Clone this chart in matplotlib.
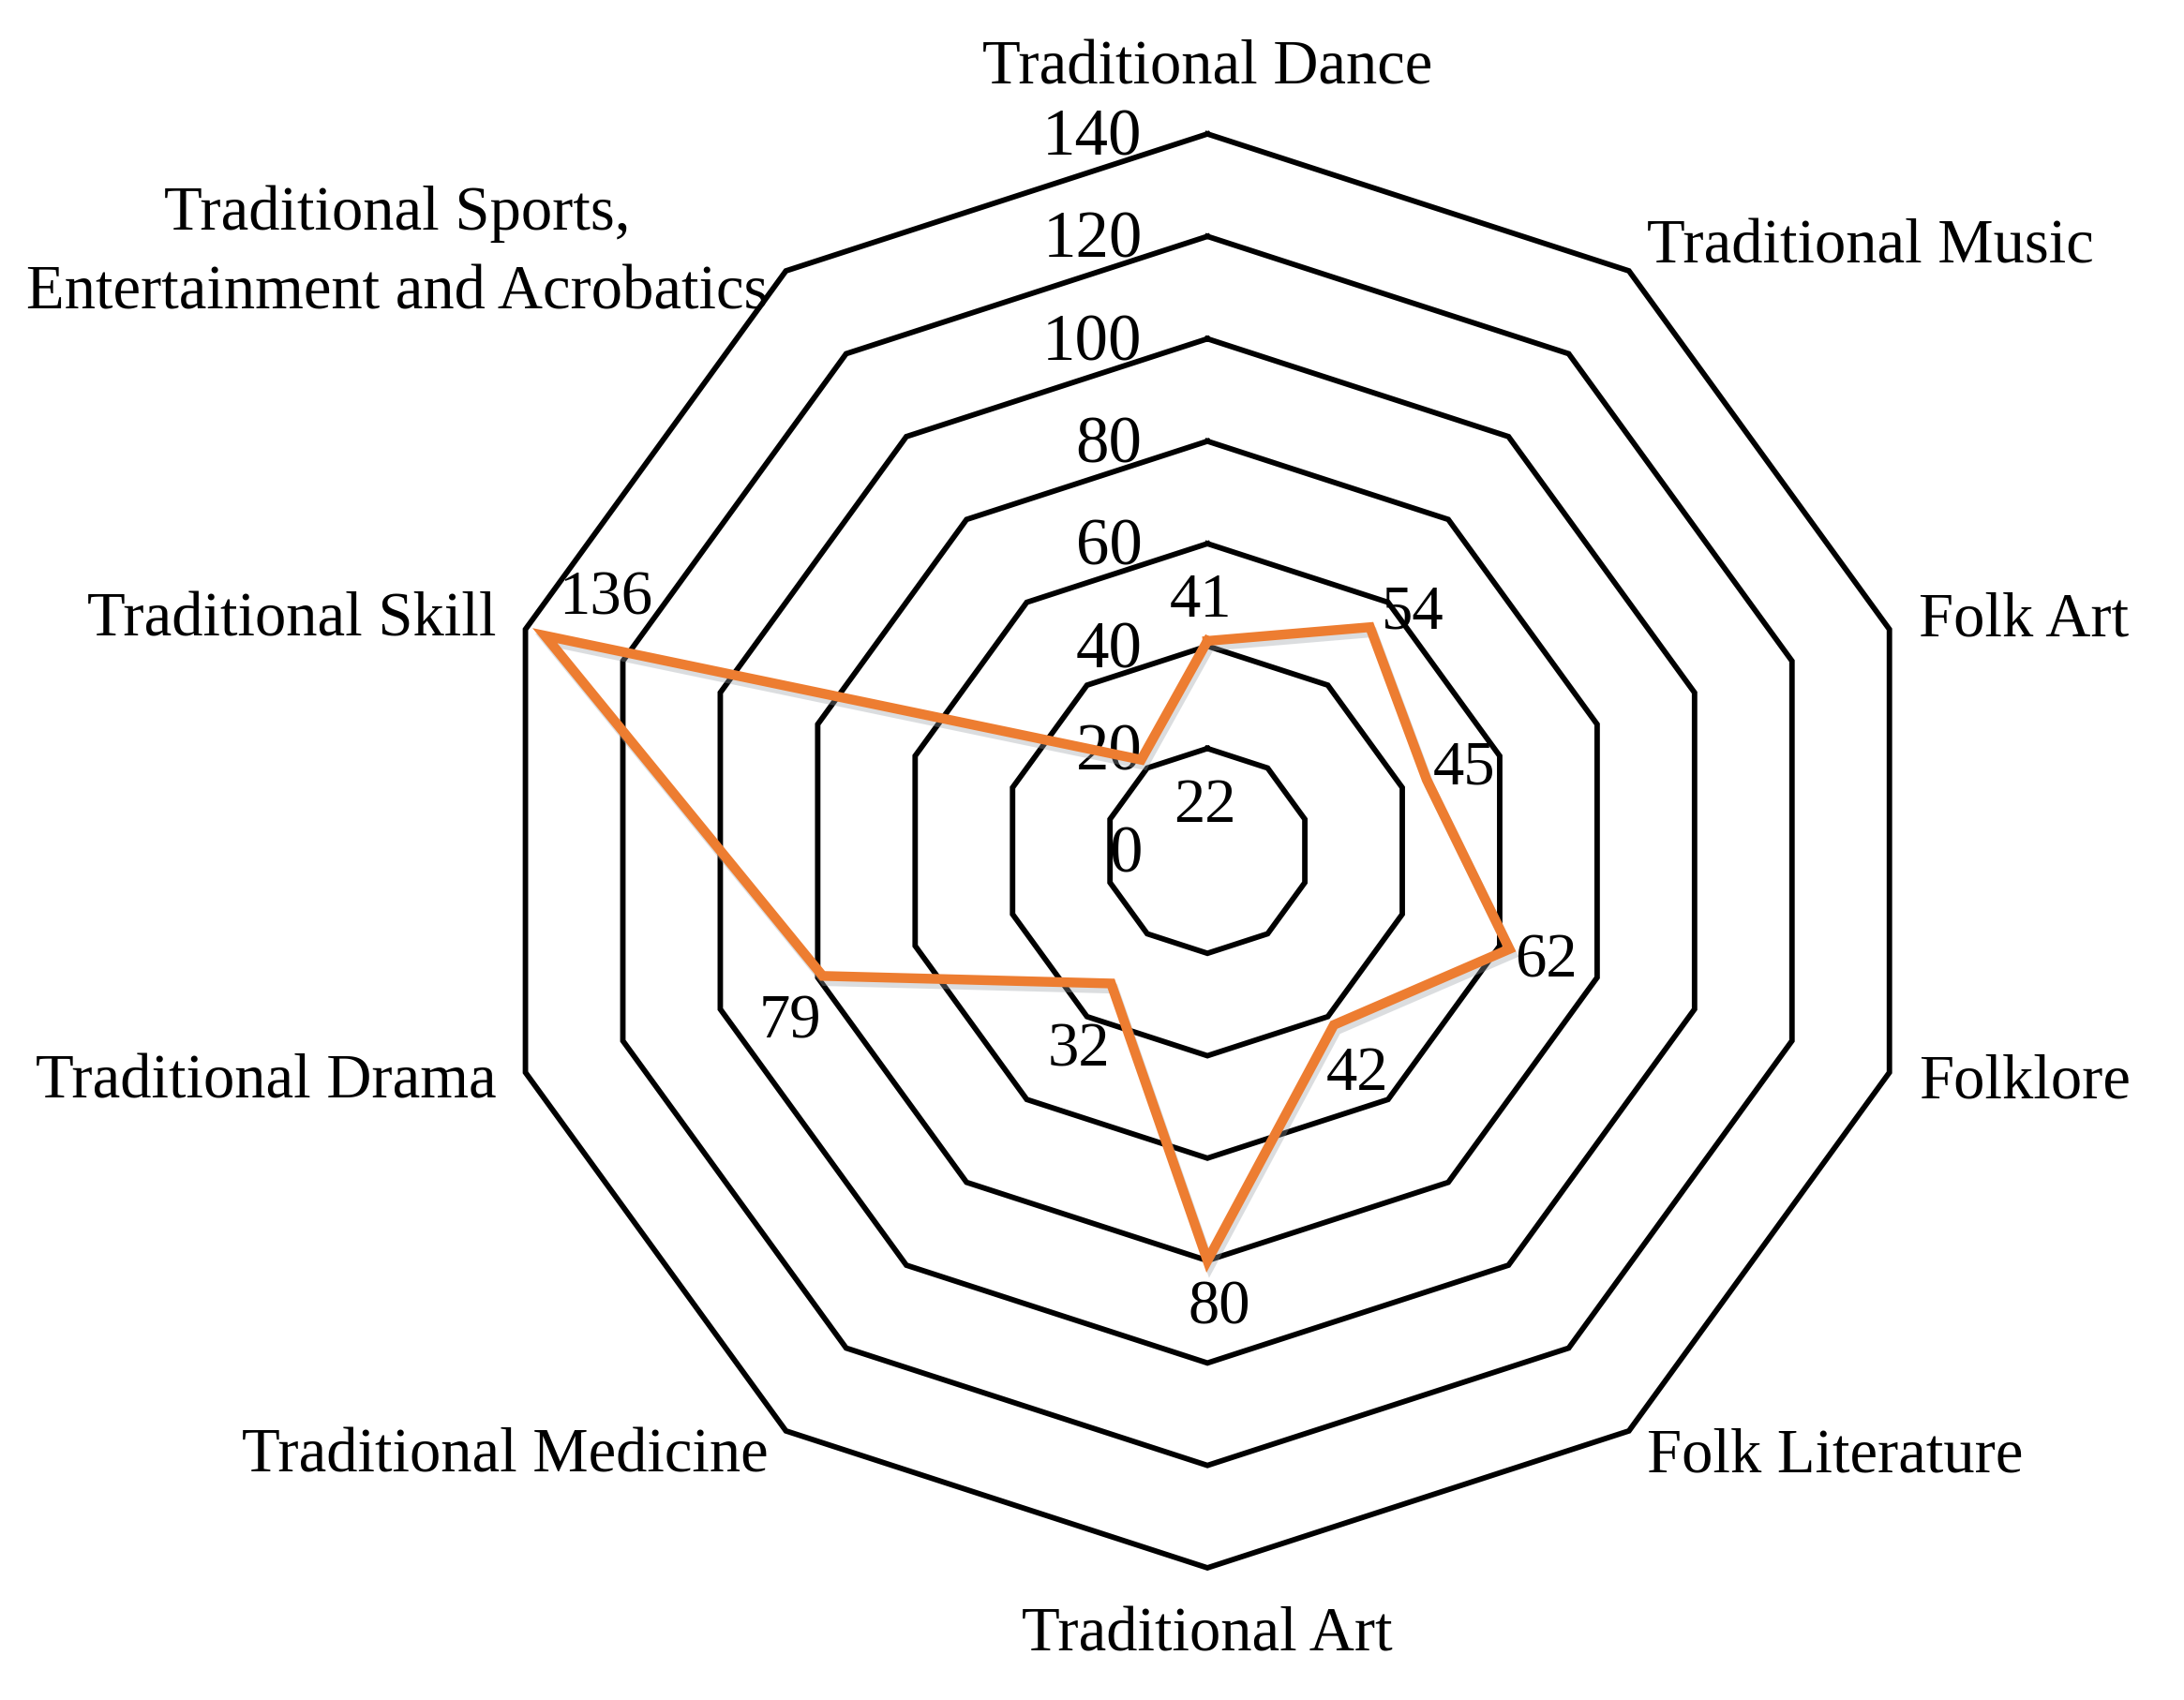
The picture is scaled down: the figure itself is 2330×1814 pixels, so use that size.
"""Radar chart of intangible cultural heritage counts by category."""

import matplotlib.pyplot as plt
import matplotlib.patheffects as pe
import numpy as np

categories = [
    "Traditional Dance",
    "Traditional Music",
    "Folk Art",
    "Folklore",
    "Folk Literature",
    "Traditional Art",
    "Traditional Medicine",
    "Traditional Drama",
    "Traditional Skill",
    "Traditional Sports,\nEntertainment and Acrobatics",
]
values = [41, 54, 45, 62, 42, 80, 32, 79, 136, 22]
ticks = [0, 20, 40, 60, 80, 100, 120, 140]

# label offsets (points) for the value labels, as placed in the original
label_offsets = [(-5, 31), (33, 12), (29, 9), (28, -9), (18, -37),
                 (9, -36), (-25, -51), (-25, -35), (47, 29), (49, -35)]

plt.rcParams["font.family"] = ["Liberation Serif", "DejaVu Serif"]
FS = 48
TICK_FS = 51

n = len(categories)
theta = np.arange(n) * 2 * np.pi / n
theta_closed = np.append(theta, theta[0])

fig = plt.figure(figsize=(23.3, 18.15), dpi=100)
ax = fig.add_axes([0.2245, 0.0777, 0.6567, 0.843], projection="polar")
ax.set_theta_offset(np.pi / 2)
ax.set_theta_direction(-1)
ax.set_ylim(0, 140)
ax.grid(False)
ax.spines["polar"].set_visible(False)
ax.set_xticks([])
ax.set_yticks([])
ax.patch.set_alpha(0)

# decagon grid rings
for t in ticks[1:]:
    ax.plot(theta_closed, [t] * (n + 1), color="black", lw=4.2, zorder=1,
            solid_joinstyle="miter", clip_on=False)

# tick labels along the vertical axis
for t in ticks:
    ax.annotate(str(t), xy=(0, t), xytext=(-50, -3), textcoords="offset points",
                ha="right", va="center", fontsize=TICK_FS, zorder=3,
                annotation_clip=False)

# data line
vals_closed = values + values[:1]
ax.plot(theta_closed, vals_closed, color="#ED7D31", lw=7.5, zorder=4,
        solid_joinstyle="miter", clip_on=False,
        path_effects=[pe.SimpleLineShadow(offset=(2, -4), shadow_color="#9aa0a6",
                                          alpha=0.35),
                      pe.Normal()])

# value labels
for th, v, (dx, dy) in zip(theta, values, label_offsets):
    ax.annotate(str(v), xy=(th, v), xytext=(dx, dy), textcoords="offset points",
                ha="center", va="center", fontsize=FS, zorder=5,
                annotation_clip=False)

# category labels
for th, name in zip(theta, categories):
    s = np.sin(th)
    if abs(s) < 0.01:
        ax.text(th, 153, name, ha="center", va="center", fontsize=FS)
    else:
        dy = -5 if "\n" in name else 0
        ax.annotate(name, xy=(th, 146), xytext=(0, dy), textcoords="offset points",
                    ha="left" if s > 0 else "right", va="center",
                    fontsize=FS, multialignment="center", linespacing=1.5,
                    annotation_clip=False)

fig.savefig("out.png", dpi=100, facecolor="white")
plt.close(fig)
